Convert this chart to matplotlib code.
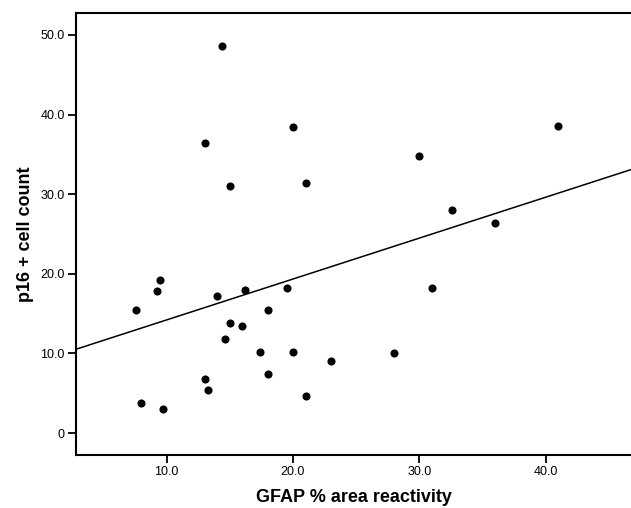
import numpy as np
import matplotlib
matplotlib.use("Agg")
import matplotlib.pyplot as plt

plt.rcParams['font.family'] = ['Liberation Sans', 'DejaVu Sans']

# GFAP % area reactivity vs p16+ cell count
gfap = [14.4, 13.0, 15.0, 20.0, 21.0, 30.0, 32.6, 36.0, 41.0,
        7.6, 9.2, 9.45, 8.0, 9.7, 14.0, 16.2, 15.0, 16.0, 14.6,
        19.5, 18.0, 17.4, 20.0, 13.0, 13.3, 18.0, 21.0, 23.0, 28.0, 31.0]
p16 = [48.6, 36.4, 31.0, 38.4, 31.4, 34.8, 28.0, 26.4, 38.6,
       15.4, 17.8, 19.2, 3.8, 3.0, 17.2, 18.0, 13.8, 13.4, 11.8,
       18.2, 15.4, 10.2, 10.2, 6.8, 5.4, 7.4, 4.6, 9.0, 10.0, 18.2]

xticks = [10, 20, 30, 40]
yticks = [0, 10, 20, 30, 40, 50]

x = np.array(gfap)
y = np.array(p16)
# linear fit line
slope, icept = np.polyfit(x, y, 1)

fig = plt.figure(figsize=(6.31, 5.08), dpi=100)
ax = fig.add_axes([76/631, 53/508, 1 - 76/631, 442/508])

xlim = (2.82, 46.76)
ax.scatter(x, y, s=34, color='black', zorder=3, linewidths=0)
xl = np.array(xlim)
ax.plot(xl, icept + slope * xl, color='black', lw=1.1)

ax.set_xlim(*xlim)
ax.set_ylim(-2.76, 52.76)
ax.set_xticks(xticks)
ax.set_xticklabels([f'{v:.1f}' for v in xticks])
ax.set_yticks(yticks)
ax.set_yticklabels(['0' if v == 0 else f'{v:.1f}' for v in yticks])
ax.tick_params(direction='out', length=6, width=1.3, labelsize=9, pad=2)

for s in ['left', 'top', 'bottom']:
    ax.spines[s].set_linewidth(1.5)
ax.spines['right'].set_visible(False)

ax.set_xlabel('GFAP % area reactivity', fontsize=13, fontweight='bold', labelpad=8)
ax.set_ylabel('p16 + cell count', fontsize=13, fontweight='bold', labelpad=5)

fig.savefig('out.png', dpi=100)
